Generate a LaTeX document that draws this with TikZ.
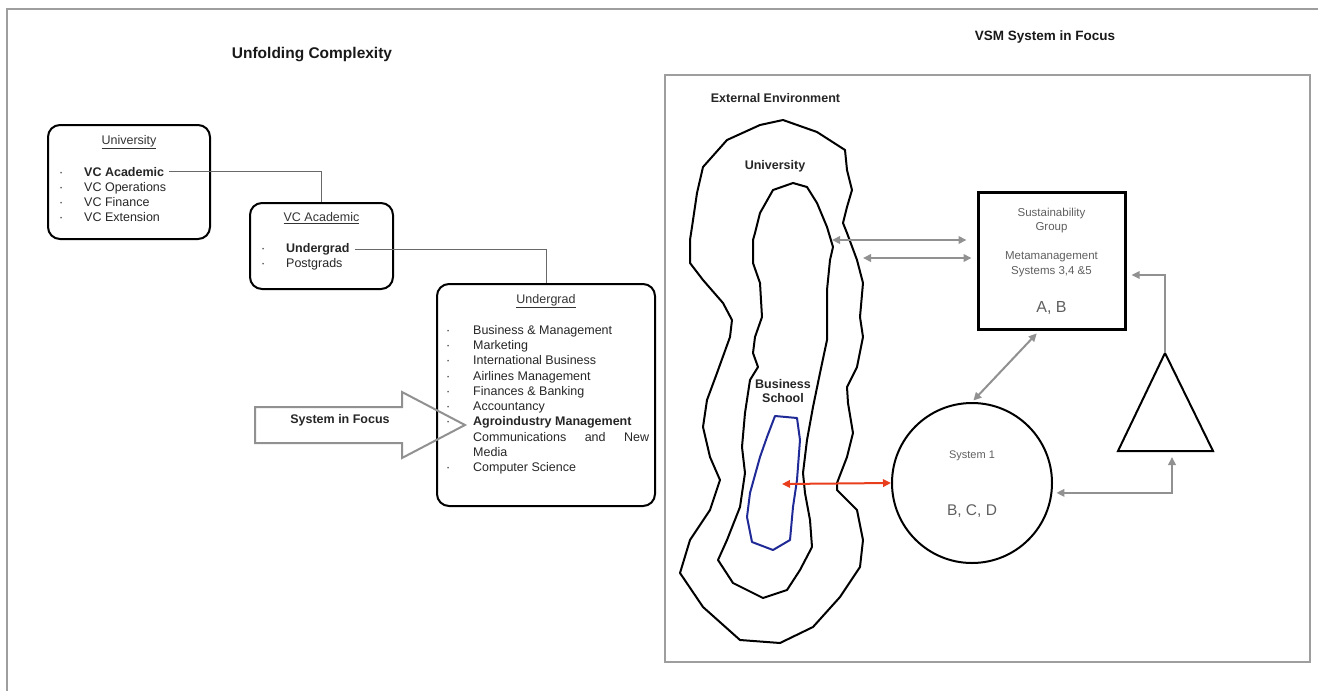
\documentclass[tikz,border=0pt]{standalone}
\usepackage{fontspec}
\setmainfont{Liberation Sans}
\usetikzlibrary{positioning,arrows.meta}

\definecolor{framegray}{RGB}{158,158,158}
\definecolor{linkgray}{RGB}{145,145,145}
\definecolor{tiegray}{RGB}{105,105,105}
\definecolor{redlink}{RGB}{232,62,30}
\definecolor{blueline}{RGB}{32,42,150}
\definecolor{vsmtext}{RGB}{95,95,95}

\newcommand{\listdot}[1][25pt]{\makebox[#1][l]{·}}

\begin{document}
\begin{tikzpicture}[x=1pt, y=-1pt,
    font=\fontsize{12.5}{15}\selectfont,
    gtip/.tip={Triangle[length=8pt,width=7.5pt]},
    listbox/.style={draw, line width=2pt, rounded corners=12pt, inner sep=0pt},
    boxtitle/.style={inner sep=1pt, text=black!80},
    item/.style={anchor=base west, inner sep=1pt, text=black!85},
    head/.style={font=\fontsize{15.5}{18}\selectfont\bfseries, text=black!90},
    tag/.style={font=\fontsize{12.5}{14}\selectfont\bfseries, text=black!85,
                align=center},
    tie/.style={tiegray, line width=1pt},
    link/.style={linkgray, line width=2pt},
    outline/.style={line width=2pt, line join=round},
    vsm/.style={text=vsmtext, align=center, font=\fontsize{11.5}{14.5}\selectfont},
  ]
  \useasboundingbox (0,0) rectangle (1318,691);
  \draw[framegray, line width=2.5pt] (7,720) |- (1340,9);

  % --- Unfolding complexity ---
  \node[head] (uctitle) at (312,55) {Unfolding Complexity};

  \node[listbox, minimum width=162pt, minimum height=114pt] (uni) at (129,182) {};
  \node[boxtitle, below=10pt of uni.north] (uniT) {\underline{University}};
  \node[item] (uniA) at (58,176) {\listdot\textbf{VC Academic}};
  \node[item] (uniO) at (58,191) {\listdot VC Operations};
  \node[item] (uniF) at (58,206) {\listdot VC Finance};
  \node[item] (uniE) at (58,221) {\listdot VC Extension};

  \node[listbox, minimum width=143pt, minimum height=86pt] (vcacad) at (321.5,246) {};
  \node[boxtitle, below=9pt of vcacad.north] (vcacadT) {\underline{VC Academic}};
  \node[item] (vcU) at (260,252.5) {\listdot\textbf{Undergrad}};
  \node[item] (vcP) at (260,267.5) {\listdot Postgrads};

  \node[listbox, minimum width=218pt, minimum height=222pt] (ugrad) at (546,395) {};
  \node[boxtitle, below=10pt of ugrad.north] (ugradT) {\underline{Undergrad}};
  \foreach \txt [count=\i] in {Business \& Management, Marketing,
      International Business, Airlines Management, Finances \& Banking,
      Accountancy, {\textbf{Agroindustry Management}}}
    \node[item] (ug\i) at (445,{319.3+15.2*\i}) {\listdot[27pt]\txt};
  \node[item] (ug8) at (472,441) {\makebox[176pt][s]{Communications and New}};
  \node[item] (ug9) at (472,456) {Media};
  \node[item] (ug10) at (445,471.3) {\listdot[27pt]Computer Science};

  \draw[tie] ([xshift=4pt]uniA.east) -| (vcacad.north);
  \draw[tie] ([xshift=4pt]vcU.east) -| (ugrad.north);

  % hollow arrow pointing at the system in focus
  \draw[linkgray, line width=2pt, line join=miter]
    (255,407) -- (402,407) -- (402,392) -- (465,425) -- (402,458)
    -- (402,443) -- (255,443) -- cycle;
  \node[tag] (focus) at (340,420) {System in Focus};

  % --- VSM system in focus ---
  \node[head, font=\fontsize{13.5}{16}\selectfont\bfseries] (vsmtitle) at (1045,37)
    {VSM System in Focus};
  \draw[framegray, line width=2pt] (665,75) rectangle (1310,662);
  \node[tag] (extenv) at (775.5,98) {External Environment};

  % university boundary
  \draw[outline] (783,120) -- (817,132) -- (845,150) -- (847,170) -- (852,190)
    -- (847,207) -- (843,223) -- (847,233) -- (857,260) -- (863,283)
    -- (860,317) -- (863,337) -- (857,367) -- (847,387) -- (848,403)
    -- (853,433) -- (847,457) -- (837,483) -- (837,490) -- (857,510)
    -- (863,540) -- (860,567) -- (840,597) -- (813,627) -- (780,643)
    -- (740,640) -- (703,607) -- (680,573) -- (690,540) -- (710,510)
    -- (720,480) -- (710,457) -- (703,427) -- (707,400) -- (717,373)
    -- (730,337) -- (732,320) -- (723,303) -- (703,280) -- (690,263)
    -- (690,240) -- (692,227) -- (697,193) -- (703,167) -- (727,140)
    -- (760,125) -- cycle;
  % business school boundary
  \draw[outline] (793,183) -- (807,187) -- (817,203) -- (827,227) -- (833,247)
    -- (830,260) -- (827,290) -- (827,340) -- (820,373) -- (813,407)
    -- (807,440) -- (803,473) -- (805,493) -- (810,520) -- (812,547)
    -- (800,570) -- (787,590) -- (763,598) -- (733,583) -- (718,560)
    -- (727,540) -- (740,507) -- (745,473) -- (742,447) -- (745,413)
    -- (750,380) -- (758,367) -- (753,353) -- (755,337) -- (762,317)
    -- (760,283) -- (753,263) -- (753,240) -- (755,233) -- (760,213)
    -- (773,190) -- cycle;
  % agroindustry
  \draw[outline, blueline] (775,416) -- (797,418) -- (800,440) -- (797,480)
    -- (793,507) -- (790,540) -- (773,550) -- (752,542) -- (747,517)
    -- (750,493) -- (760,457) -- (767,437) -- cycle;

  \node[tag] (uniL) at (775,166) {University};
  \node[tag] (bsL) at (783,391) {Business\\School};

  \coordinate (innerR) at (832,240);
  \coordinate (outerR) at (863,258);
  \coordinate (agro) at (782,484);

  \node[draw, line width=3pt, minimum width=147pt, minimum height=137pt]
    (susbox) at (1051.5,260.5) {};
  \node[vsm] (susA) at ([yshift=40pt]susbox.center) {Sustainability\\Group};
  \node[vsm] (susB) at ([yshift=-3.5pt]susbox.center)
    {Metamanagement\\Systems 3,4 \&5};
  \node[vsm, font=\fontsize{16}{18}\selectfont] (susC)
    at ([yshift=-47.5pt]susbox.center) {A, B};

  \node[draw, circle, line width=2pt, minimum size=160pt, inner sep=0pt]
    (sys1) at (972,483) {};
  \node[vsm, font=\fontsize{11}{13}\selectfont] (sysA)
    at ([yshift=27pt]sys1.center) {System 1};
  \node[vsm, font=\fontsize{15.5}{18}\selectfont] (sysB)
    at ([yshift=-28pt]sys1.center) {B, C, D};

  \coordinate (triTop) at (1165,353);
  \coordinate (triL) at (1118,451);
  \coordinate (triR) at (1213,451);
  \draw[outline, line join=miter] (triTop) -- (triL) -- (triR) -- cycle;
  \coordinate (triIn) at (1172,457);

  \draw[link, gtip-gtip, shorten >=10pt] (innerR) -- (susbox.west |- innerR);
  \draw[link, gtip-gtip, shorten >=5pt] (outerR) -- (susbox.west |- outerR);
  \draw[link, gtip-gtip, shorten <=4pt, shorten >=2pt]
    ([xshift=-12pt]susbox.south) -- (sys1.north);
  \draw[link, gtip-gtip, shorten <=4pt] (sys1.-7) -| (triIn);
  \draw[link, line width=1.6pt, -gtip, shorten >=5pt]
    (triTop) |- ([yshift=-14.5pt]susbox.east);
  \draw[redlink, line width=2pt, gtip-gtip] (agro) -- (sys1.west);
\end{tikzpicture}
\end{document}
